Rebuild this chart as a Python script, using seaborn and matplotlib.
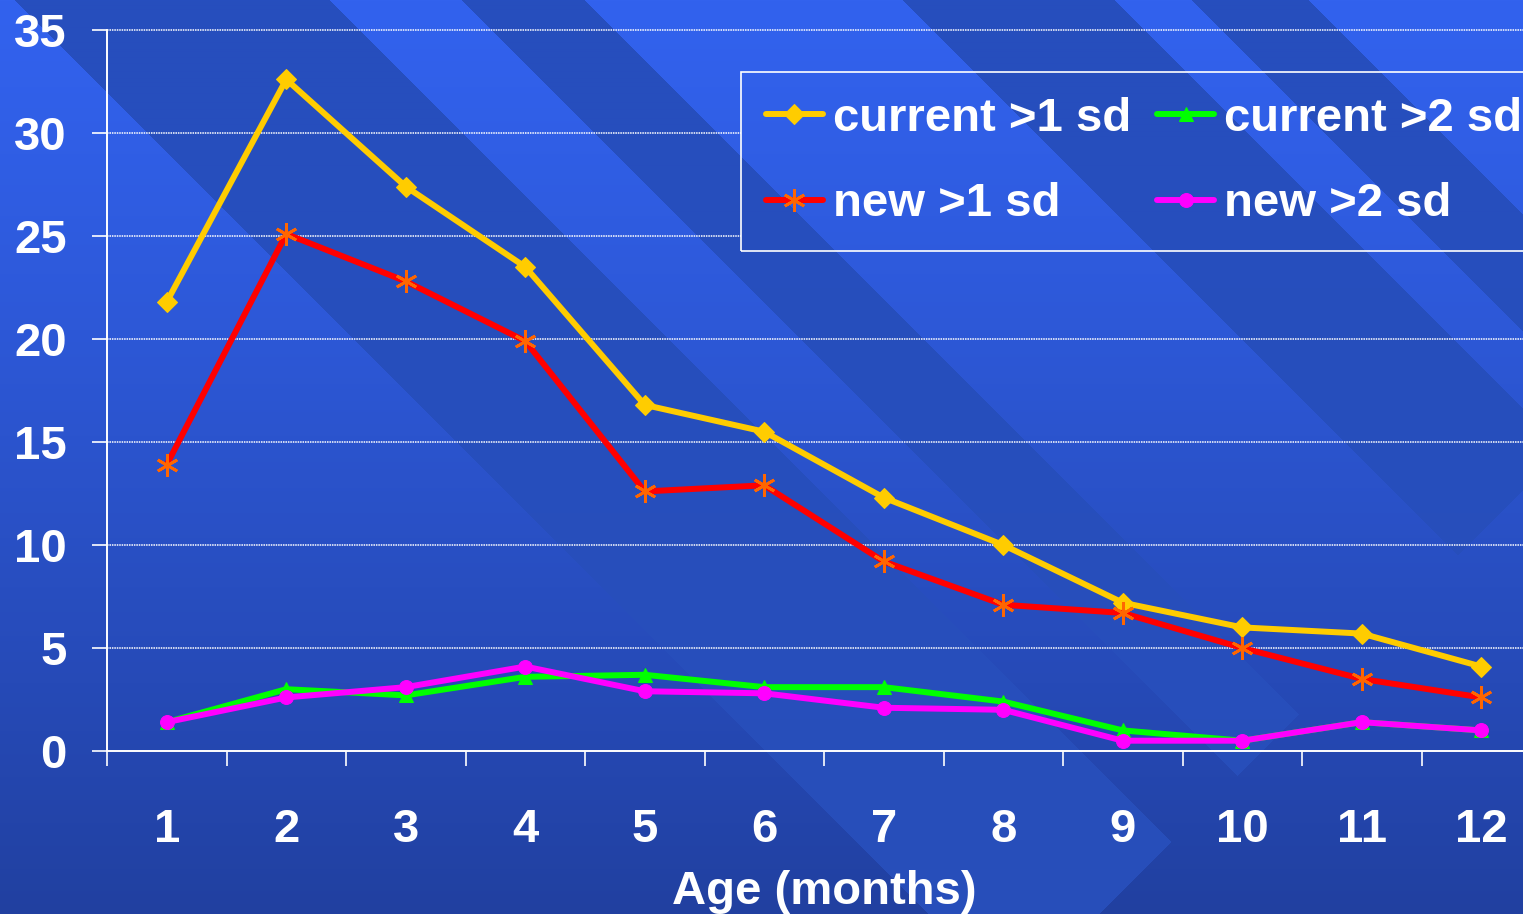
import numpy as np
import pandas as pd
import matplotlib
matplotlib.use("Agg")
import matplotlib.pyplot as plt
import seaborn as sns

# ---- data -------------------------------------------------------------
months = [1, 2, 3, 4, 5, 6, 7, 8, 9, 10, 11, 12]
current_gt1sd = [21.8, 32.6, 27.4, 23.5, 16.8, 15.5, 12.3, 10.0, 7.2, 6.0, 5.7, 4.1]
new_gt1sd = [13.9, 25.1, 22.8, 19.9, 12.6, 12.9, 9.2, 7.1, 6.7, 5.0, 3.5, 2.6]
current_gt2sd = [1.4, 3.0, 2.7, 3.6, 3.7, 3.1, 3.1, 2.4, 1.0, 0.5, 1.4, 1.0]
new_gt2sd = [1.4, 2.6, 3.1, 4.1, 2.9, 2.8, 2.1, 2.0, 0.5, 0.5, 1.4, 1.0]
series_names = ["current >1 sd", "new >1 sd", "current >2 sd", "new >2 sd"]
y_ticks = [0, 5, 10, 15, 20, 25, 30, 35]
x_label = "Age (months)"

df = pd.DataFrame({
    "month": months * 4,
    "value": current_gt1sd + new_gt1sd + current_gt2sd + new_gt2sd,
    "series": np.repeat(series_names, len(months)),
})

styles = {
    "current >1 sd": dict(color="#FFCC00", marker="D", markersize=10,
                          markerfacecolor="#FFCC00", markeredgecolor="#FFCC00"),
    "new >1 sd": dict(color="#FF0000", marker=(6, 2, 0), markersize=16,
                      markerfacecolor="#FF6600", markeredgecolor="#FF6600",
                      markeredgewidth=2.0),
    "current >2 sd": dict(color="#00FF00", marker="^", markersize=10,
                          markerfacecolor="#00FF00", markeredgecolor="#00FF00"),
    "new >2 sd": dict(color="#FF00FF", marker="o", markersize=10,
                      markerfacecolor="#FF00FF", markeredgecolor="#FF00FF"),
}

# ---- style ------------------------------------------------------------
sns.set_style("white")
plt.rcParams["font.family"] = ["Liberation Sans", "DejaVu Sans"]
plt.rcParams["font.weight"] = "bold"
FS = 34

W, H = 1523, 914
fig = plt.figure(figsize=(W / 100, H / 100), dpi=100)
fig.patch.set_facecolor("#2A52C8")

# slide backdrop: vertical gradient with diagonal bands
yy, xx = np.mgrid[0:H, 0:W].astype(float)
t = (yy / (H - 1))[..., None]
diag = xx - yy
band = np.zeros((H, W), dtype=bool)
for a, b in [(15, 330), (462, 585), (903, 1115), (1192, 1309)]:
    band |= (diag >= a) & (diag < b)
band &= (xx + yy) < 2013
light_top = np.array([50, 98, 238]); light_bot = np.array([33, 64, 160])
dark_top = np.array([38, 78, 190]); dark_bot = np.array([40, 78, 186])
tt = t ** 1.2
base = light_top * (1 - tt) + light_bot * tt
dark = dark_top * (1 - tt) + dark_bot * tt
img = np.where(band[..., None], dark, base) / 255.0
fig.figimage(img, xo=0, yo=0, origin="upper", zorder=0)

# axes: plot area spans from x=107px; 12 categories of ~119.5px each
left = 107 / W
width = 12 * 119.5 / W
bottom = (H - 751) / H
height = (751 - 30) / H
ax = fig.add_axes([left, bottom, width, height])
ax.set_facecolor("none")
ax.set_zorder(2)

for name in series_names:
    sub = df[df["series"] == name]
    sns.lineplot(data=sub, x="month", y="value", ax=ax, label=name,
                 linewidth=4.3, solid_joinstyle="miter", **styles[name])

ax.set_xlim(0.5, 12.5)
ax.set_ylim(0, 35)
ax.set_yticks(y_ticks)
ax.set_yticklabels([str(v) for v in y_ticks])
ax.set_xticks(months)
ax.set_xticklabels([str(m) for m in months])
ax.set_xticks(np.arange(0.5, 13, 1.0), minor=True)

ax.tick_params(axis="x", which="major", length=0, pad=41,
               labelsize=FS, labelcolor="white")
ax.tick_params(axis="x", which="minor", length=11, width=1.2,
               color="white", direction="out", bottom=True)
ax.tick_params(axis="y", which="major", length=11, width=1.2,
               color="white", direction="out", left=True, pad=18,
               labelsize=FS, labelcolor="white")
for lab in ax.get_xticklabels() + ax.get_yticklabels():
    lab.set_fontweight("bold")

ax.set_xlabel(x_label, fontsize=FS, fontweight="bold", color="white",
              labelpad=13)
ax.set_ylabel("")

for side in ["top", "right"]:
    ax.spines[side].set_visible(False)
for side in ["left", "bottom"]:
    ax.spines[side].set_color("white")
    ax.spines[side].set_linewidth(1.4)
ax.grid(False)

# legend: two columns, transparent box with a thin white border
handles, labels = ax.get_legend_handles_labels()
leg = ax.legend(handles, labels, ncol=2, loc="upper left",
                bbox_to_anchor=(741 / W, 1 - 72 / H),
                bbox_transform=fig.transFigure, borderaxespad=0,
                frameon=True, fancybox=False, framealpha=1,
                facecolor="none", edgecolor="white",
                prop={"size": FS, "weight": "bold"},
                handlelength=1.22, handletextpad=0.2, columnspacing=0.55,
                labelspacing=0.88, borderpad=0.52, numpoints=1)
leg.get_frame().set_linewidth(1.2)
for txt in leg.get_texts():
    txt.set_color("white")

# horizontal grid lines stop at the legend box
fig.canvas.draw()
bb = leg.get_window_extent().transformed(ax.transAxes.inverted())
for v in y_ticks[1:]:
    y_ax = ax.transAxes.inverted().transform(ax.transData.transform((1, v)))[1]
    x_end = bb.x0 if bb.y0 <= y_ax <= bb.y1 else 1.0
    ax.plot([0, x_end], [v, v], transform=ax.get_yaxis_transform(),
            color="white", linewidth=1.1, linestyle=(0, (1, 0.6)),
            zorder=0.5, clip_on=False)

fig.savefig("out.png", dpi=100)
